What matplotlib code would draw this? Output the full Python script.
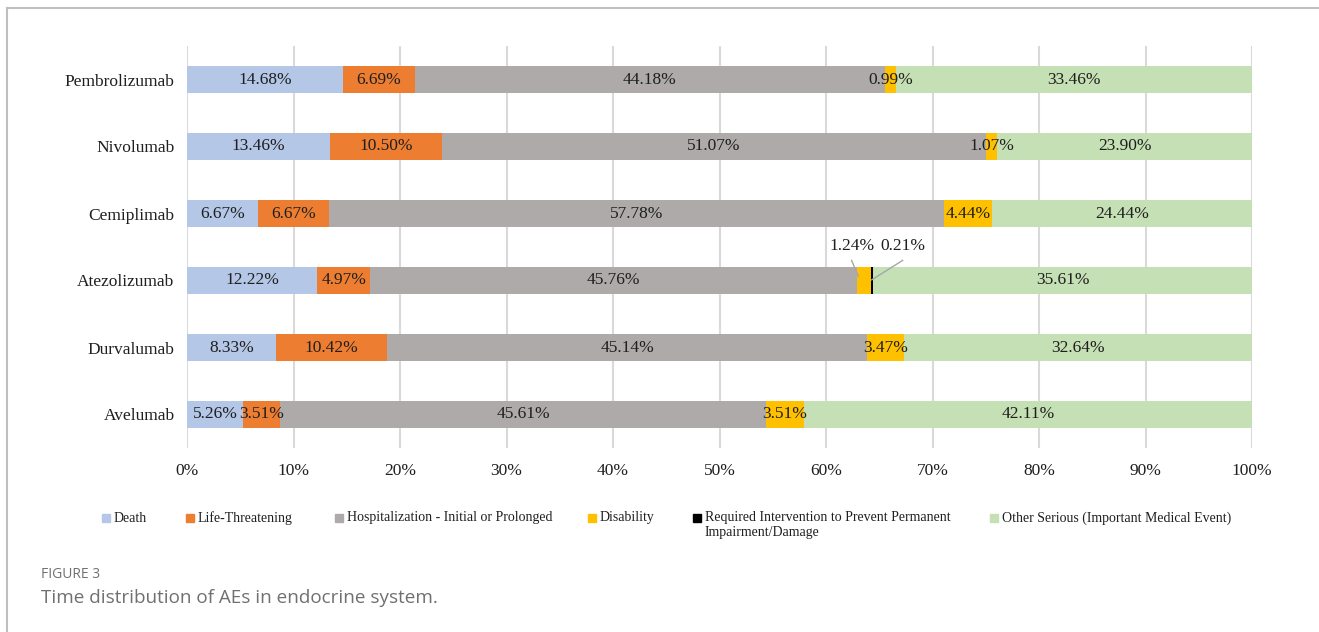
import matplotlib
matplotlib.use("Agg")
import matplotlib.pyplot as plt
from matplotlib.patches import Rectangle
from matplotlib.lines import Line2D
import numpy as np

plt.rcParams['font.family'] = ['Liberation Serif', 'DejaVu Serif']

# data, top bar first
drugs = ['Pembrolizumab', 'Nivolumab', 'Cemiplimab', 'Atezolizumab', 'Durvalumab', 'Avelumab']
categories = ['Death', 'Life-Threatening', 'Hospitalization - Initial or Prolonged', 'Disability',
              'Required Intervention to Prevent Permanent\nImpairment/Damage',
              'Other Serious (Important Medical Event)']
death = [14.68, 13.46, 6.67, 12.22, 8.33, 5.26]
life_threat = [6.69, 10.50, 6.67, 4.97, 10.42, 3.51]
hospital = [44.18, 51.07, 57.78, 45.76, 45.14, 45.61]
disability = [0.99, 1.07, 4.44, 1.24, 3.47, 3.51]
required = [0, 0, 0, 0.21, 0, 0]
other = [33.46, 23.90, 24.44, 35.61, 32.64, 42.11]

colors = ['#B4C7E7', '#ED7D31', '#AEAAAA', '#FFC000', '#000000', '#C5E0B4']
series = [death, life_threat, hospital, disability, required, other]

W, H = 1319, 632
fig = plt.figure(figsize=(W / 100, H / 100), dpi=100)
ax = fig.add_axes([187 / W, 1 - 448 / H, 1065 / W, 402 / H])

y = np.arange(len(drugs))[::-1]
left = np.zeros(len(drugs))
for vals, c in zip(series, colors):
    vals = np.array(vals)
    ax.barh(y, vals, left=left, height=0.4, color=c, zorder=3)
    for yi, l, v in zip(y, left, vals):
        if v <= 0:
            continue
        # the two thin atezolizumab segments get callouts instead
        if yi == 2 and (c == '#FFC000' or c == '#000000'):
            continue
        ax.text(l + v / 2, yi, '%.2f%%' % v, ha='center', va='center',
                fontsize=12.5, color='#1F1F1F', zorder=4)
    left = left + vals

# callouts for atezolizumab
i = drugs.index('Atezolizumab')
yi = y[i]
base = death[i] + life_threat[i] + hospital[i]
lab_x = [62.4, 67.2]
ax.text(lab_x[0], yi + 0.51, '%.2f%%' % disability[i], ha='center', va='center',
        fontsize=12.5, color='#1F1F1F', zorder=5)
ax.text(lab_x[1], yi + 0.51, '%.2f%%' % required[i], ha='center', va='center',
        fontsize=12.5, color='#1F1F1F', zorder=5)
ax.plot([lab_x[0], base + 0.1], [yi + 0.30, yi + 0.06], color='#A6A6A6', lw=1, zorder=5)
ax.plot([lab_x[1], base + disability[i] + required[i] / 2], [yi + 0.30, yi + 0.01],
        color='#A6A6A6', lw=1, zorder=5)

ax.set_xlim(0, 100)
ax.set_ylim(-0.5, len(drugs) - 0.5)
ax.set_xticks(np.arange(0, 101, 10))
ax.set_xticklabels(['%d%%' % t for t in range(0, 101, 10)])
ax.set_yticks(y)
ax.set_yticklabels(drugs)
ax.tick_params(axis='both', length=0, labelsize=12.5, colors='#1F1F1F')
ax.tick_params(axis='x', pad=11)
ax.tick_params(axis='y', pad=9)
ax.grid(axis='x', color='#D9D9D9', lw=1.5, zorder=0)
for s in ax.spines.values():
    s.set_visible(False)

# legend drawn by hand to keep Excel-like spacing
leg_x = [102, 186, 335, 588, 693, 990]
for lx, lab, c in zip(leg_x, categories, colors):
    fig.patches.append(Rectangle((lx / W, 1 - 522 / H), 8 / W, 8 / H,
                                 transform=fig.transFigure, color=c))
    fig.text((lx + 12) / W, 1 - 511.5 / H, lab, fontsize=10, va='top', ha='left',
             color='#1F1F1F', linespacing=1.15)

# frame and caption
fig.add_artist(Line2D([7 / W, 7 / W], [0, 1 - 8 / H], color='#BFBFBF', lw=1.5))
fig.add_artist(Line2D([7 / W, 1], [1 - 8 / H, 1 - 8 / H], color='#BFBFBF', lw=1.5))
fig.text(41 / W, 1 - 575 / H, 'FIGURE 3', family='Open Sans', fontsize=10,
         color='#707070', va='center')
fig.text(41 / W, 1 - 598 / H, 'Time distribution of AEs in endocrine system.',
         family='Open Sans', fontsize=13.6, color='#707070', va='center')

fig.savefig('out.png', dpi=100)
